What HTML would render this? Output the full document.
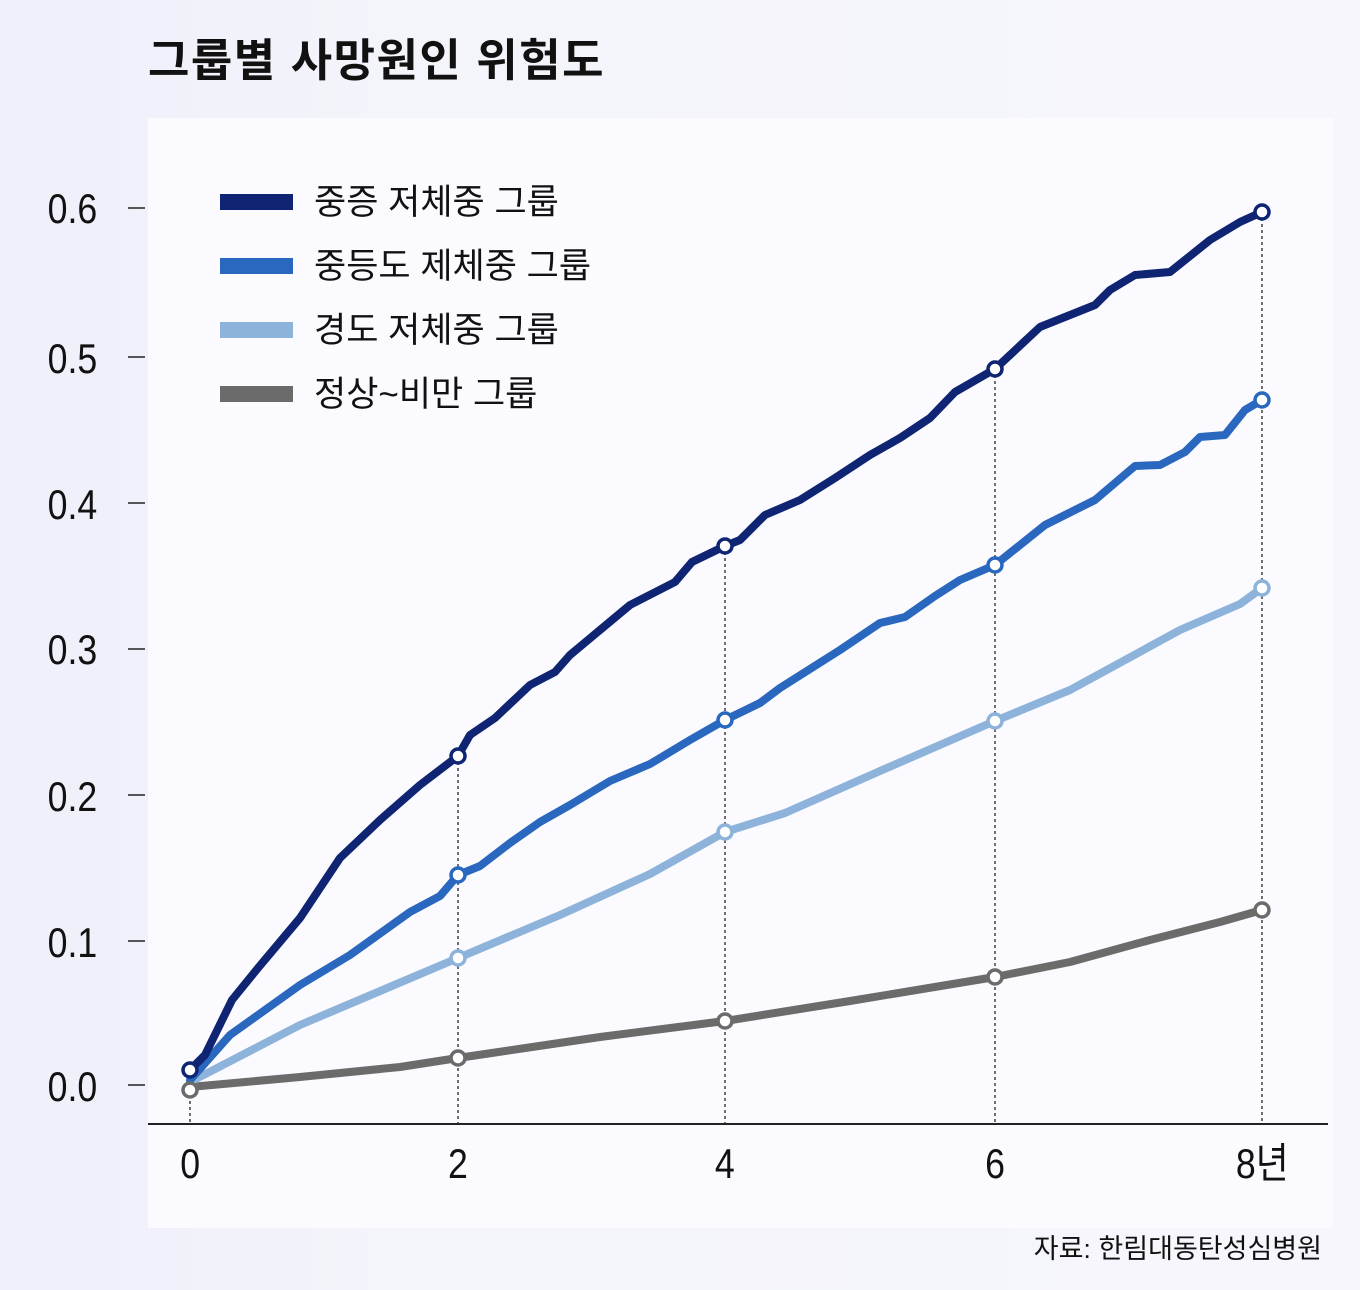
<!DOCTYPE html>
<html><head><meta charset="utf-8"><style>
body{margin:0;width:1360px;height:1290px;background:linear-gradient(90deg,#eeeff9,#f4f4fb 30%,#f6f6fc);overflow:hidden}
svg{display:block}
text{font-family:"Liberation Sans","Noto Sans CJK KR",sans-serif}
</style></head><body>
<svg width="1360" height="1290" viewBox="0 0 1360 1290">
<rect x="148" y="118" width="1185" height="1110" fill="#fbfbff"/>
<text x="148" y="76" font-size="45" font-weight="bold" fill="#111" letter-spacing="1.5">그룹별 사망원인 위험도</text>
<g font-size="42" fill="#111" transform="scale(0.85,1)">
<text x="56" y="223">0.6</text><text x="56" y="373">0.5</text><text x="56" y="519">0.4</text><text x="56" y="664">0.3</text><text x="56" y="811">0.2</text><text x="56" y="957">0.1</text><text x="56" y="1101">0.0</text>
</g>
<g stroke="#222" stroke-width="1.5">
<line x1="128" y1="208" x2="145" y2="208"/><line x1="128" y1="357" x2="145" y2="357"/><line x1="128" y1="503" x2="145" y2="503"/><line x1="128" y1="649" x2="145" y2="649"/><line x1="128" y1="795" x2="145" y2="795"/><line x1="128" y1="941" x2="145" y2="941"/><line x1="128" y1="1085" x2="145" y2="1085"/>
<line x1="148" y1="1124" x2="1328" y2="1124" stroke-width="2"/>
</g>
<g stroke="#222" stroke-width="1.3" stroke-dasharray="3,3">
<line x1="190" y1="1095" x2="190" y2="1124"/><line x1="458" y1="756" x2="458" y2="1124"/><line x1="725" y1="546" x2="725" y2="1124"/><line x1="995" y1="369" x2="995" y2="1124"/><line x1="1262" y1="212" x2="1262" y2="1124"/>
</g>
<g font-size="42" fill="#111" transform="scale(0.85,1)">
<text x="212" y="1178">0</text><text x="527" y="1178">2</text><text x="841" y="1178">4</text><text x="1159" y="1178">6</text><text x="1454" y="1178">8년</text>
</g>
<g fill="none" stroke-width="8" stroke-linejoin="round" stroke-linecap="round">
<polyline stroke="#6b6b6b" points="190,1087 300,1077 400,1067 458,1058 600,1037 725,1021 850,1001 995,977 1070,962 1150,940 1220,922 1262,910"/>
<polyline stroke="#8db3da" points="190,1082 300,1025 458,958 560,915 650,874 725,832 785,813 880,771 995,721 1070,690 1180,630 1240,604 1262,588"/>
<polyline stroke="#2a67be" points="190,1080 230,1035 300,985 350,955 410,912 440,896 458,875 480,866 510,843 540,822 570,805 610,781 650,764 690,740 725,720 760,703 780,688 840,650 880,623 905,617 935,596 960,580 995,565 1045,525 1095,500 1135,466 1160,465 1185,452 1200,437 1225,435 1245,410 1262,400"/>
<polyline stroke="#0f2573" points="190,1070 205,1055 232,1000 258,968 300,918 340,858 380,820 420,785 458,756 470,735 495,718 530,685 555,672 570,655 600,630 630,605 675,582 692,562 725,546 740,540 765,515 800,500 835,478 870,455 900,438 930,418 955,392 995,369 1040,327 1095,305 1110,290 1135,275 1170,272 1210,240 1240,222 1262,212"/>
</g>
<g fill="#fff" stroke-width="3.5">
<g stroke="#0f2573"><circle cx="190" cy="1070" r="7"/><circle cx="458" cy="756" r="7"/><circle cx="725" cy="546" r="7"/><circle cx="995" cy="369" r="7"/><circle cx="1262" cy="212" r="7"/></g>
<g stroke="#2a67be"><circle cx="458" cy="875" r="7"/><circle cx="725" cy="720" r="7"/><circle cx="995" cy="565" r="7"/><circle cx="1262" cy="400" r="7"/></g>
<g stroke="#8db3da"><circle cx="458" cy="958" r="7"/><circle cx="725" cy="832" r="7"/><circle cx="995" cy="721" r="7"/><circle cx="1262" cy="588" r="7"/></g>
<g stroke="#6b6b6b"><circle cx="190" cy="1090" r="7"/><circle cx="458" cy="1058" r="7"/><circle cx="725" cy="1021" r="7"/><circle cx="995" cy="977" r="7"/><circle cx="1262" cy="910" r="7"/></g>
</g>
<rect x="220" y="194" width="73" height="16" fill="#0f2573"/>
<rect x="220" y="258" width="73" height="16" fill="#2a67be"/>
<rect x="220" y="322" width="73" height="16" fill="#8db3da"/>
<rect x="220" y="386" width="73" height="16" fill="#6b6b6b"/>
<g font-size="35" fill="#111">
<text x="314" y="214">중증 저체중 그룹</text>
<text x="314" y="278">중등도 제체중 그룹</text>
<text x="314" y="342">경도 저체중 그룹</text>
<text x="314" y="406">정상~비만 그룹</text>
</g>
<text x="1322" y="1258" font-size="27" fill="#111" text-anchor="end">자료: 한림대동탄성심병원</text>
</svg>
</body></html>
